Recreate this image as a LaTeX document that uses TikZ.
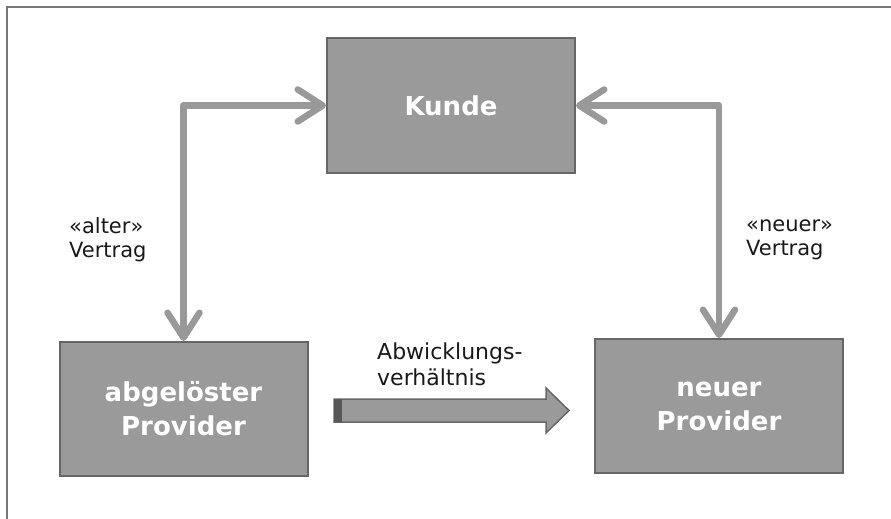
\documentclass[tikz,border=0pt]{standalone}
\usepackage{fontspec}
\setmainfont{DejaVu Sans}
\usepackage{tikz}
\usetikzlibrary{arrows.meta, positioning, calc}

\definecolor{boxgray}{HTML}{9A9A9A}
\definecolor{edgegray}{HTML}{666666}
\definecolor{linegray}{HTML}{999999}
\definecolor{framegray}{HTML}{777777}

\begin{document}
\begin{tikzpicture}[x=1pt, y=-1pt]
  % --- Styles ---
  \tikzset{
    party/.style={rectangle, fill=boxgray, draw=edgegray, line width=2pt,
      minimum width=248pt, minimum height=134pt, text=white, align=center,
      font=\bfseries\fontsize{26}{34}\selectfont},
    contract/.style={draw=linegray, line width=6.5pt, line cap=round, line join=round,
      {Straight Barb[length=25pt, width=32pt, round]}-{Straight Barb[length=25pt, width=32pt, round]}},
    note/.style={align=left, anchor=west, inner sep=0pt, text=black!90,
      font=\fontsize{21}{24}\selectfont}
  }

  % --- Page and outer frame ---
  \useasboundingbox (0,0) rectangle (891,519);
  \clip (0,0) rectangle (891,519);
  \draw[framegray, line width=2pt] (7,7) rectangle (900,530);

  % --- The three parties ---
  \node[party] (kunde)   at (451,105.5) {Kunde};
  \node[party] (altprov) at (183.5,409) {abgelöster\\Provider};
  \node[party] (neuprov) at (719,406)   {neuer\\Provider};

  % --- Contracts with the customer ---
  \draw[contract] (altprov.north) |- (kunde.west);
  \draw[contract] (neuprov.north) |- (kunde.east);

  \node[note] (altlabel) at (69,240)  {«alter»\\Vertrag};
  \node[note] (neulabel) at (746,240) {«neuer»\\Vertrag};

  % --- Handover between the providers ---
  \fill[boxgray] (334,399) -- (546,399) -- (546,388) -- (569,410.5)
    -- (546,433) -- (546,422) -- (334,422) -- cycle;
  \draw[edgegray, line width=1.5pt] (334,399) -- (546,399) -- (546,388) -- (569,410.5)
    -- (546,433) -- (546,422) -- (334,422) -- cycle;
  \fill[edgegray!85!black] (334,399) rectangle (342,422);

  \node[note, font=\fontsize{22}{26}\selectfont] (abwlabel) at (377,364) {Abwicklungs-\\verhältnis};
\end{tikzpicture}
\end{document}
